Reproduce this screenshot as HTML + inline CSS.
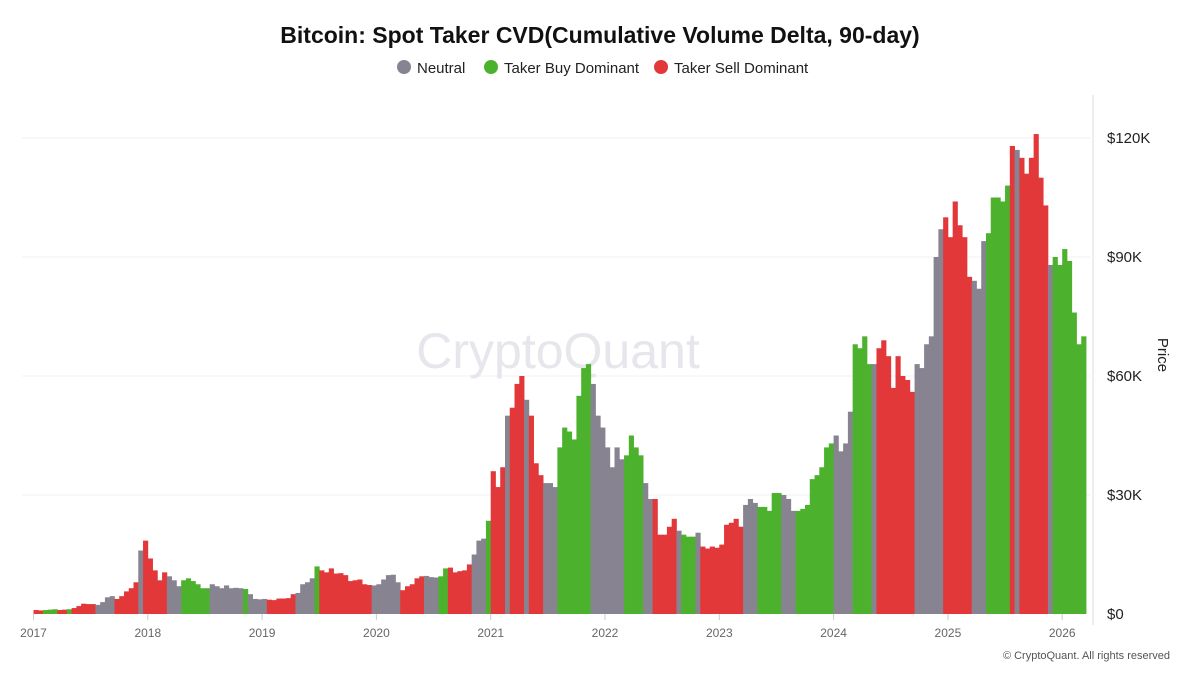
<!DOCTYPE html>
<html><head><meta charset="utf-8"><style>
body{margin:0;background:#fff;width:1200px;height:675px;overflow:hidden;font-family:"Liberation Sans",sans-serif}
svg{position:absolute;left:0;top:0}
</style></head><body>
<svg id="c" width="1200" height="675">
<text x="600" y="43" text-anchor="middle" font-size="23" font-weight="bold" fill="#111">Bitcoin: Spot Taker CVD(Cumulative Volume Delta, 90-day)</text>
<g font-size="15" fill="#222">
<g><circle cx="404" cy="67" r="7" fill="#888390"/><text x="417" y="73">Neutral</text></g>
<g><circle cx="491" cy="67" r="7" fill="#4cb22e"/><text x="504" y="73">Taker Buy Dominant</text></g>
<g><circle cx="661" cy="67" r="7" fill="#e2383a"/><text x="674" y="73">Taker Sell Dominant</text></g>
</g>
<g id="grid"></g>
<text x="558" y="368" text-anchor="middle" font-size="50" fill="#e6e6ec">CryptoQuant</text>
<g id="bars"></g>
<line x1="1093" y1="95" x2="1093" y2="625" stroke="#ddd"/>
<g id="xt"></g><g id="yt"></g>
<text transform="translate(1158,355) rotate(90)" text-anchor="middle" font-size="15" fill="#222">Price</text>
<text x="1170" y="659" text-anchor="end" font-size="11" fill="#555">© CryptoQuant. All rights reserved</text>
</svg>
<script>
const prices=[1.0,0.9,1.0,1.1,1.2,1.0,1.1,1.2,1.5,2.0,2.6,2.5,2.5,2.3,3.0,4.2,4.5,3.8,4.5,5.7,6.5,8.0,16,18.5,
14,11,8.5,10.5,9.5,8.5,7.0,8.5,9.0,8.3,7.5,6.5,6.5,7.5,7.0,6.5,7.2,6.5,6.6,6.5,6.3,5.0,3.8,3.7,
3.8,3.6,3.5,3.9,3.9,4.0,5.0,5.3,7.5,8.0,9.0,12.0,11.0,10.5,11.5,10.2,10.3,9.8,8.3,8.5,8.7,7.5,7.3,7.2,
7.5,8.7,9.8,9.9,8.0,6.0,7.0,7.5,9.0,9.5,9.6,9.3,9.2,9.5,11.5,11.7,10.5,10.8,11.0,12.5,15,18.5,19.0,23.5,
36,32,37,50,52,58,60,54,50,38,35,33,33,32,42,47,46,44,55,62,63,58,50,47,
42,37,42,39,40,45,42,40,33,29,29,20,20,22,24,21,20,19.5,19.5,20.5,17,16.5,17,16.7,
17.5,22.5,23,24,22,27.5,29,28,27,27,26,30.5,30.5,30,29,26,26,26.5,27.5,34,35,37,42,43,
45,41,43,51,68,67,70,63,63,67,69,65,57,65,60,59,56,63,62,68,70,90,97,100,
95,104,98,95,85,84,82,94,96,105,105,104,108,118,117,115,111,115,121,110,103,88,90,88,
92,89,76,68,70];
const regimeStarts=[2017.0,2017.086,2017.203,2017.276,2017.348,2017.538,2017.698,2017.771,2017.80,2017.926,2017.966,2018.159,2018.281,2018.544,2018.821,2018.894,2019.054,2019.287,2019.462,2019.52,2019.978,2020.191,2020.424,2020.541,2020.643,2020.832,2020.958,2021.015,2021.132,2021.146,2021.272,2021.322,2021.453,2021.594,2021.863,2022.178,2022.339,2022.398,2022.608,2022.681,2022.792,2022.848,2023.222,2023.348,2023.544,2023.661,2024.009,2024.153,2024.318,2024.355,2024.702,2024.954,2025.202,2025.338,2025.532,2025.578,2025.613,2025.751,2025.763,2025.882,2025.931];
const regimeTypes=["S","B","S","B","S","N","S","B","S","N","S","N","B","N","B","N","S","N","B","S","N","S","N","B","S","N","B","S","N","S","N","S","N","B","N","B","N","S","N","B","N","S","N","B","N","B","N","B","N","S","N","S","N","B","S","N","S","N","S","N","B"];
const yTicks=[0,30,60,90,120];
const yTickLabels=["$0","$30K","$60K","$90K","$120K"];
const xTicks=[2017,2018,2019,2020,2021,2022,2023,2024,2025,2026];
const NS="http://www.w3.org/2000/svg";
const X=t=>33.5+(t-2017)*114.3;
const Y=v=>614-v*(119/30);
const col={N:"#888390",B:"#4cb22e",S:"#e2383a"};
function mk(tag,attrs,parent){const e=document.createElementNS(NS,tag);for(const k in attrs)e.setAttribute(k,attrs[k]);parent.appendChild(e);return e;}
const grid=document.getElementById('grid'),yt=document.getElementById('yt'),xt=document.getElementById('xt'),bars=document.getElementById('bars');
yTicks.forEach((v,i)=>{
 if(v>0){const l=mk('line',{x1:22,x2:1090,y1:Y(v),y2:Y(v),stroke:'#f0f0f0'},grid);
 
 }
 const t=mk('text',{x:1107,y:Y(v)+5,'font-size':15,fill:'#222'},yt);t.textContent=yTickLabels[i];
 
 
});
xTicks.forEach(y=>{
 const tk=mk('line',{x1:X(y),x2:X(y),y1:614,y2:620,stroke:'#ccc'},xt);
 
 
 const t=mk('text',{x:X(y),y:637,'text-anchor':'middle','font-size':12,fill:'#666'},xt);t.textContent=y;
 
 
});
const step=1/24,w=114.3*step;
prices.forEach((p,i)=>{
 const t=2017+i*step;let r="N";
 for(let k=0;k<regimeStarts.length;k++){if(t+step/2>=regimeStarts[k])r=regimeTypes[k];}
 const b=mk('rect',{x:X(t),y:Y(p),width:w+0.4,height:614-Y(p),fill:col[r]},bars);
 
 
});
</script>
</body></html>
